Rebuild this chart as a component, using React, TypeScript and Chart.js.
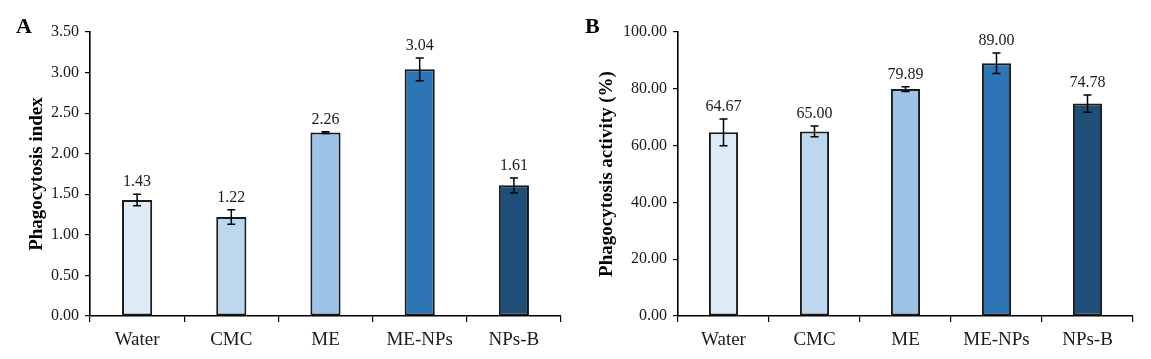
import React, { useEffect, useRef } from "react";
import { Chart, registerables } from "chart.js";

Chart.register(...registerables);

const categories = ["Water", "CMC", "ME", "ME-NPs", "NPs-B"];
const indexValues = [1.43, 1.22, 2.26, 3.04, 1.61];
const indexErrors = [0.07, 0.09, 0.01, 0.14, 0.09];
const activityValues = [64.67, 65.0, 79.89, 89.0, 74.78];
const activityErrors = [4.7, 1.9, 0.8, 3.6, 3.0];
const barColors = ["#DEEBF7", "#BDD7EE", "#9DC3E6", "#2E75B6", "#1F4E79"];

const SERIF = '"Liberation Serif", "Times New Roman", serif';

type PanelSpec = {
  letter: string;
  title: string;
  values: number[];
  errors: number[];
  max: number;
  step: number;
  axisWidth: number;
  titlePad: number;
  rightPad: number;
  width: number;
  left: number;
};

const panels: PanelSpec[] = [
  {
    letter: "A",
    title: "Phagocytosis index",
    values: indexValues,
    errors: indexErrors,
    max: 3.5,
    step: 0.5,
    axisWidth: 90,
    titlePad: 25.6,
    rightPad: 14,
    width: 575,
    left: 0,
  },
  {
    letter: "B",
    title: "Phagocytosis activity (%)",
    values: activityValues,
    errors: activityErrors,
    max: 100,
    step: 20,
    axisWidth: 103,
    titlePad: 20.6,
    rightPad: 18,
    width: 576,
    left: 575,
  },
];

const HEIGHT = 359;

function makePlugin(p: PanelSpec) {
  return {
    id: "annot" + p.letter,
    afterDatasetsDraw(chart: any) {
      const ctx = chart.ctx as CanvasRenderingContext2D;
      const meta = chart.getDatasetMeta(0);
      const ys = chart.scales.y;
      ctx.save();
      meta.data.forEach((bar: any, i: number) => {
        const x = bar.x;
        const top = ys.getPixelForValue(p.values[i] + p.errors[i]);
        const bot = ys.getPixelForValue(p.values[i] - p.errors[i]);
        ctx.strokeStyle = "#000";
        ctx.lineWidth = 1.5;
        ctx.beginPath();
        ctx.moveTo(x, top);
        ctx.lineTo(x, bot);
        ctx.moveTo(x - 4, top);
        ctx.lineTo(x + 4, top);
        ctx.moveTo(x - 4, bot);
        ctx.lineTo(x + 4, bot);
        ctx.stroke();
        ctx.fillStyle = "#1a1a1a";
        ctx.font = "16px " + SERIF;
        ctx.textAlign = "center";
        ctx.textBaseline = "alphabetic";
        ctx.fillText(p.values[i].toFixed(2), x, top - 8);
      });
      ctx.fillStyle = "#000";
      ctx.font = "bold 22px " + SERIF;
      ctx.textAlign = "left";
      ctx.textBaseline = "alphabetic";
      ctx.fillText(p.letter, p.letter === "A" ? 16 : 10, 33);
      ctx.restore();
    },
  };
}

function Panel({ p }: { p: PanelSpec }) {
  const ref = useRef<HTMLCanvasElement | null>(null);
  useEffect(() => {
    if (!ref.current) return;
    const chart = new Chart(ref.current, {
      type: "bar",
      data: {
        labels: categories,
        datasets: [
          {
            data: p.values,
            backgroundColor: barColors,
            borderColor: "#1a1a1a",
            borderWidth: 2,
            borderSkipped: false,
            barPercentage: 0.32,
            categoryPercentage: 1,
          },
        ],
      },
      options: {
        animation: false,
        responsive: false,
        devicePixelRatio: 1,
        layout: { padding: { left: 0, right: p.rightPad, top: 32, bottom: 0 } },
        plugins: {
          legend: { display: false },
          tooltip: { enabled: false },
        },
        scales: {
          x: {
            offset: true,
            afterFit: (s: any) => {
              s.height = HEIGHT - 316;
            },
            grid: {
              offset: true,
              display: true,
              drawOnChartArea: false,
              drawTicks: true,
              tickLength: 6,
              color: "#000",
              lineWidth: 1.2,
            },
            border: { display: true, color: "#000", width: 1.6 },
            ticks: {
              color: "#1a1a1a",
              padding: 7,
              font: { family: SERIF, size: 19 },
            },
          },
          y: {
            min: 0,
            max: p.max,
            afterFit: (s: any) => {
              s.width = p.axisWidth;
            },
            grid: {
              display: true,
              drawOnChartArea: false,
              drawTicks: true,
              tickLength: 5,
              color: "#000",
              lineWidth: 1.2,
            },
            border: { display: true, color: "#000", width: 1.6 },
            ticks: {
              stepSize: p.step,
              color: "#1a1a1a",
              padding: 6,
              font: { family: SERIF, size: 16 },
              callback: (v: any) => Number(v).toFixed(2),
            },
            title: {
              display: true,
              text: p.title,
              color: "#000",
              padding: { top: p.titlePad, bottom: 0 },
              font: { family: SERIF, size: 19, weight: "bold" },
            },
          },
        },
      },
      plugins: [makePlugin(p)],
    } as any);
    return () => chart.destroy();
  }, []);
  return (
    <canvas
      ref={ref}
      width={p.width}
      height={HEIGHT}
      style={{ position: "absolute", left: p.left, top: 0, display: "block" }}
    />
  );
}

export default function App() {
  return (
    <div
      style={{
        position: "absolute",
        left: 0,
        top: 0,
        width: 1151,
        height: HEIGHT,
        background: "#fff",
        overflow: "hidden",
      }}
    >
      {panels.map((p) => (
        <Panel key={p.letter} p={p} />
      ))}
    </div>
  );
}
